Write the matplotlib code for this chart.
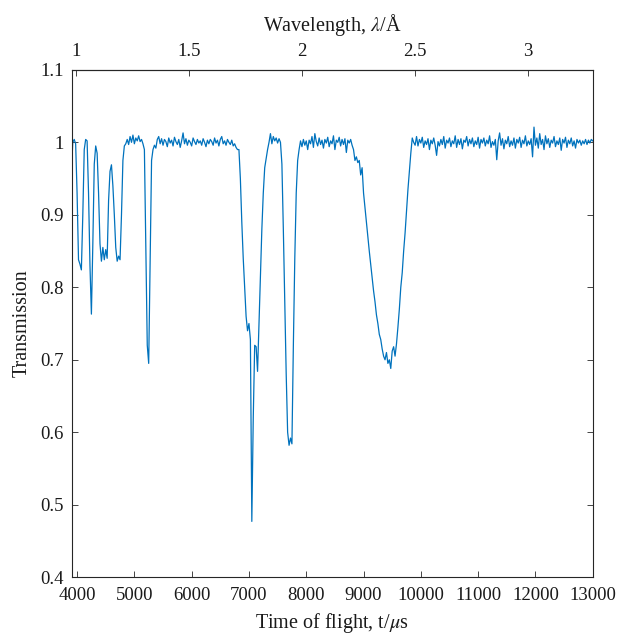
import matplotlib
matplotlib.use('Agg', force=True)

import matplotlib.pyplot as plt
from matplotlib.ticker import FormatStrFormatter

# time-of-flight channels (us) and measured transmission
tof_us = [
    3900, 3925, 3950, 3975, 4000, 4025, 4050, 4075,
    4100, 4125, 4150, 4175, 4200, 4225, 4250, 4275,
    4300, 4325, 4350, 4375, 4400, 4425, 4450, 4475,
    4500, 4525, 4550, 4575, 4600, 4625, 4650, 4675,
    4700, 4725, 4750, 4775, 4800, 4825, 4850, 4875,
    4900, 4925, 4950, 4975, 5000, 5025, 5050, 5075,
    5100, 5125, 5150, 5175, 5200, 5225, 5250, 5275,
    5300, 5325, 5350, 5375, 5400, 5425, 5450, 5475,
    5500, 5525, 5550, 5575, 5600, 5625, 5650, 5675,
    5700, 5725, 5750, 5775, 5800, 5825, 5850, 5875,
    5900, 5925, 5950, 5975, 6000, 6025, 6050, 6075,
    6100, 6125, 6150, 6175, 6200, 6225, 6250, 6275,
    6300, 6325, 6350, 6375, 6400, 6425, 6450, 6475,
    6500, 6525, 6550, 6575, 6600, 6625, 6650, 6675,
    6700, 6725, 6750, 6775, 6800, 6825, 6850, 6875,
    6900, 6925, 6950, 6975, 7000, 7025, 7050, 7075,
    7100, 7125, 7150, 7175, 7200, 7225, 7250, 7275,
    7300, 7325, 7350, 7375, 7400, 7425, 7450, 7475,
    7500, 7525, 7550, 7575, 7600, 7625, 7650, 7675,
    7700, 7725, 7750, 7775, 7800, 7825, 7850, 7875,
    7900, 7925, 7950, 7975, 8000, 8025, 8050, 8075,
    8100, 8125, 8150, 8175, 8200, 8225, 8250, 8275,
    8300, 8325, 8350, 8375, 8400, 8425, 8450, 8475,
    8500, 8525, 8550, 8575, 8600, 8625, 8650, 8675,
    8700, 8725, 8750, 8775, 8800, 8825, 8850, 8875,
    8900, 8925, 8950, 8975, 9000, 9025, 9050, 9075,
    9100, 9125, 9150, 9175, 9200, 9225, 9250, 9275,
    9300, 9325, 9350, 9375, 9400, 9425, 9450, 9475,
    9500, 9525, 9550, 9575, 9600, 9625, 9650, 9675,
    9700, 9725, 9750, 9775, 9800, 9825, 9850, 9875,
    9900, 9925, 9950, 9975, 10000, 10025, 10050, 10075,
    10100, 10125, 10150, 10175, 10200, 10225, 10250, 10275,
    10300, 10325, 10350, 10375, 10400, 10425, 10450, 10475,
    10500, 10525, 10550, 10575, 10600, 10625, 10650, 10675,
    10700, 10725, 10750, 10775, 10800, 10825, 10850, 10875,
    10900, 10925, 10950, 10975, 11000, 11025, 11050, 11075,
    11100, 11125, 11150, 11175, 11200, 11225, 11250, 11275,
    11300, 11325, 11350, 11375, 11400, 11425, 11450, 11475,
    11500, 11525, 11550, 11575, 11600, 11625, 11650, 11675,
    11700, 11725, 11750, 11775, 11800, 11825, 11850, 11875,
    11900, 11925, 11950, 11975, 12000, 12025, 12050, 12075,
    12100, 12125, 12150, 12175, 12200, 12225, 12250, 12275,
    12300, 12325, 12350, 12375, 12400, 12425, 12450, 12475,
    12500, 12525, 12550, 12575, 12600, 12625, 12650, 12675,
    12700, 12725, 12750, 12775, 12800, 12825, 12850, 12875,
    12900, 12925, 12950, 12975, 13000,
]

transmission = [
    0.958, 1.000, 1.004, 0.998, 0.930, 0.838, 0.832, 0.824,
    0.900, 0.990, 1.004, 1.002, 0.930, 0.830, 0.763, 0.860,
    0.970, 0.995, 0.985, 0.930, 0.860, 0.836, 0.855, 0.838,
    0.852, 0.840, 0.920, 0.960, 0.969, 0.940, 0.900, 0.855,
    0.836, 0.843, 0.838, 0.900, 0.975, 0.995, 0.998, 1.004,
    0.997, 1.008, 1.000, 1.010, 0.998, 1.006, 1.002, 1.009,
    1.001, 1.004, 0.998, 0.990, 0.850, 0.720, 0.695, 0.830,
    0.975, 0.990, 0.996, 0.992, 1.004, 1.008, 0.998, 1.005,
    0.996, 1.004, 1.001, 0.994, 1.006, 0.999, 1.003, 0.995,
    1.007, 1.001, 0.997, 1.004, 0.993, 1.002, 1.013, 0.998,
    1.005, 0.996, 1.003, 1.000, 0.995, 1.006, 1.001, 0.997,
    1.004, 0.999, 1.002, 0.996, 1.005, 1.000, 0.994, 1.003,
    0.998, 1.004, 1.001, 0.996, 1.006, 0.999, 1.003, 0.995,
    1.004, 1.008, 0.998, 1.002, 0.996, 1.004, 1.000, 0.997,
    1.003, 0.995, 0.998, 0.993, 0.990, 0.990, 0.950, 0.890,
    0.840, 0.800, 0.760, 0.740, 0.750, 0.728, 0.477, 0.620,
    0.720, 0.718, 0.684, 0.750, 0.820, 0.880, 0.930, 0.965,
    0.978, 0.990, 1.000, 1.012, 0.998, 1.008, 1.002, 1.006,
    0.999, 1.005, 1.000, 0.970, 0.880, 0.780, 0.680, 0.600,
    0.582, 0.592, 0.584, 0.720, 0.840, 0.930, 0.975, 0.990,
    1.002, 0.994, 1.004, 0.996, 1.002, 0.990, 1.003, 0.998,
    1.008, 0.993, 1.012, 1.001, 0.995, 1.006, 0.997, 1.003,
    0.992, 1.004, 0.999, 1.007, 0.994, 1.002, 0.998, 1.009,
    0.990, 1.003, 1.000, 1.007, 0.995, 1.004, 0.997, 1.005,
    0.986, 1.003, 0.999, 1.004, 0.996, 0.990, 0.975, 0.980,
    0.972, 0.975, 0.955, 0.965, 0.930, 0.910, 0.890, 0.870,
    0.850, 0.832, 0.815, 0.795, 0.780, 0.762, 0.750, 0.735,
    0.728, 0.715, 0.705, 0.700, 0.710, 0.695, 0.700, 0.688,
    0.712, 0.718, 0.705, 0.722, 0.745, 0.770, 0.800, 0.820,
    0.850, 0.875, 0.905, 0.935, 0.960, 0.985, 1.006, 1.000,
    0.996, 1.008, 0.995, 1.004, 0.999, 1.007, 0.993, 1.002,
    0.997, 1.005, 0.990, 1.003, 0.998, 1.006, 0.996, 0.982,
    1.001, 0.995, 1.004, 0.997, 1.008, 0.992, 1.003, 0.999,
    1.006, 0.994, 1.002, 0.998, 1.009, 0.993, 1.004, 0.997,
    1.005, 0.991, 1.003, 1.000, 1.008, 0.995, 1.004, 0.998,
    1.006, 0.994, 1.002, 0.997, 1.007, 0.992, 1.004, 0.999,
    1.006, 0.995, 1.003, 0.998, 1.009, 0.993, 1.001, 0.996,
    1.004, 0.976, 1.002, 1.013, 0.996, 1.005, 0.991, 1.003,
    0.998, 1.008, 0.994, 1.002, 0.996, 1.006, 0.992, 1.004,
    0.999, 1.007, 0.993, 1.003, 0.998, 1.009, 0.995, 1.002,
    0.997, 1.005, 0.980, 1.021, 0.996, 1.006, 0.992, 1.012,
    0.997, 1.004, 0.990, 1.009, 0.998, 1.005, 0.993, 1.003,
    0.999, 1.008, 0.994, 1.002, 0.997, 1.006, 0.989, 1.004,
    0.999, 1.007, 0.993, 1.003, 0.998, 1.006, 0.995, 1.002,
    0.992, 1.004, 0.999, 1.003, 0.996, 1.002, 0.998, 1.004,
    0.997, 1.003, 0.999, 1.004, 1.002,
]

y_ticks = [0.4, 0.5, 0.6, 0.7, 0.8, 0.9, 1.0, 1.1]
x_ticks = [4000, 5000, 6000, 7000, 8000, 9000, 10000, 11000, 12000, 13000]
lam_ticks = [1, 1.5, 2, 2.5, 3]

# tof -> wavelength
def tof_to_lam(t):
    return (t - 28.0) / 3948.0

def lam_to_tof(lam):
    return lam * 3948.0 + 28.0

plt.rcParams['font.family'] = ['Liberation Serif', 'DejaVu Serif']
plt.rcParams['mathtext.fontset'] = 'stix'

axis_col = '#262626'
txt_col = '#1a1a1a'

fig = plt.figure(figsize=(6.2, 6.35), dpi=100)
ax = fig.add_axes([0.116, 0.091, 0.840, 0.799])

ax.plot(tof_us, transmission, color='#0072BD', lw=0.9)

ax.set_xlim(3910, 13000)
ax.set_ylim(0.4, 1.1)
ax.set_xticks(x_ticks)
ax.set_yticks(y_ticks)
ax.yaxis.set_major_formatter(FormatStrFormatter('%g'))
ax.tick_params(direction='in', length=4, width=0.6, color=axis_col,
               labelsize=13.5, labelcolor=txt_col, right=True, top=False)
ax.tick_params(axis='x', pad=7)
ax.tick_params(axis='y', pad=6)
for s in ax.spines.values():
    s.set_color(axis_col)
    s.set_linewidth(0.8)

ax.set_xlabel('Time of flight, t/$\\mu$s', fontsize=14.5, labelpad=5, color=txt_col)
ax.set_ylabel('Transmission', fontsize=14.5, labelpad=6, color=txt_col)

sec = ax.secondary_xaxis('top', functions=(tof_to_lam, lam_to_tof))
sec.set_xticks(lam_ticks)
sec.set_xticklabels(['1', '1.5', '2', '2.5', '3'])
sec.tick_params(direction='in', length=4, width=0.6, color=axis_col,
                labelsize=13.5, labelcolor=txt_col, pad=7)
sec.spines['top'].set_color(axis_col)
sec.set_xlabel('Wavelength, $\\lambda$/Å', fontsize=14.5, labelpad=9, color=txt_col)

fig.savefig('out.png', dpi=100)
plt.close(fig)
